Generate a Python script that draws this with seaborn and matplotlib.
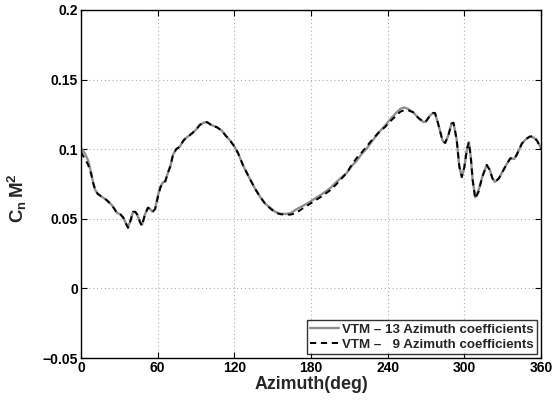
import matplotlib
matplotlib.use("Agg")
import matplotlib.pyplot as plt
import seaborn as sns
import pandas as pd

azimuth = [0, 3, 5.5, 8, 9.5, 11, 13, 16, 20, 24, 28, 31, 33, 35, 36.8, 38.5, 40.7, 42.5, 44, 46,
           47.7, 50, 52.4, 54, 56, 58, 60, 62, 64, 66, 68, 70, 72, 74.5, 77.5, 80, 82, 85, 87, 90,
           93, 96, 98.5, 101, 103, 106, 110, 113, 116.5, 120, 123, 127, 132, 136, 140, 144, 148, 152, 156, 160,
           164, 168, 172, 177, 183, 189, 195, 200, 203, 208, 212, 216, 220, 224, 228.5, 233, 238, 242, 246, 250,
           253, 256, 260, 264, 268, 270, 273, 275.5, 277, 279, 281, 283, 285, 287.5, 290, 291.5, 294, 296, 298, 300,
           302, 303.5, 305, 306.5, 308.5, 311, 314, 317.5, 320, 322, 324, 327, 330, 333, 336, 339, 341, 343, 345, 348,
           351, 354, 357, 360]

cn_13 = [0.101, 0.097, 0.092, 0.083, 0.076, 0.071, 0.068, 0.066, 0.0635, 0.060, 0.0545, 0.053, 0.051, 0.047, 0.044, 0.048, 0.055, 0.055, 0.053, 0.048,
         0.0456, 0.053, 0.058, 0.057, 0.055, 0.057, 0.066, 0.073, 0.076, 0.077, 0.083, 0.088, 0.096, 0.100, 0.102, 0.106, 0.108, 0.110, 0.1115, 0.114,
         0.1175, 0.119, 0.1195, 0.118, 0.117, 0.116, 0.1135, 0.110, 0.1065, 0.102, 0.097, 0.088, 0.079, 0.072, 0.066, 0.061, 0.058, 0.055, 0.0536, 0.0535,
         0.054, 0.0565, 0.0585, 0.061, 0.0645, 0.068, 0.072, 0.0765, 0.079, 0.083, 0.088, 0.092, 0.097, 0.101, 0.1066, 0.112, 0.117, 0.1215, 0.1255, 0.129,
         0.130, 0.129, 0.1265, 0.1225, 0.1195, 0.120, 0.124, 0.126, 0.126, 0.120, 0.113, 0.106, 0.1045, 0.110, 0.1185, 0.119, 0.107, 0.088, 0.080, 0.087,
         0.100, 0.105, 0.095, 0.078, 0.0655, 0.070, 0.080, 0.0887, 0.085, 0.079, 0.0765, 0.079, 0.084, 0.089, 0.0935, 0.093, 0.096, 0.100, 0.104, 0.107,
         0.109, 0.1085, 0.106, 0.101]

cn_9 = [0.098, 0.093, 0.089, 0.082, 0.076, 0.071, 0.068, 0.066, 0.0635, 0.060, 0.0545, 0.053, 0.051, 0.047, 0.0435, 0.048, 0.055, 0.055, 0.053, 0.048,
        0.0450, 0.053, 0.058, 0.057, 0.055, 0.057, 0.065, 0.072, 0.076, 0.077, 0.083, 0.088, 0.096, 0.100, 0.102, 0.106, 0.108, 0.110, 0.1115, 0.114,
        0.1175, 0.119, 0.1195, 0.118, 0.116, 0.116, 0.1135, 0.110, 0.1065, 0.102, 0.097, 0.088, 0.079, 0.072, 0.066, 0.061, 0.0575, 0.0545, 0.0533, 0.0530,
        0.053, 0.054, 0.0565, 0.0595, 0.063, 0.0665, 0.0705, 0.075, 0.078, 0.083, 0.089, 0.094, 0.098, 0.1025, 0.1075, 0.112, 0.116, 0.120, 0.1235, 0.127,
        0.128, 0.128, 0.1265, 0.1225, 0.1195, 0.120, 0.124, 0.126, 0.126, 0.120, 0.113, 0.106, 0.1045, 0.110, 0.1185, 0.119, 0.107, 0.088, 0.080, 0.087,
        0.100, 0.105, 0.095, 0.078, 0.0645, 0.069, 0.080, 0.0887, 0.085, 0.079, 0.0765, 0.079, 0.084, 0.089, 0.0935, 0.093, 0.096, 0.100, 0.104, 0.107,
        0.109, 0.1095, 0.106, 0.100]

x_ticks = [0, 60, 120, 180, 240, 300, 360]
y_ticks = [-0.05, 0, 0.05, 0.1, 0.15, 0.2]
y_tick_labels = ["\u22120.05", "0", "0.05", "0.1", "0.15", "0.2"]
series_names = ["VTM \u2013 13 Azimuth coefficients", "VTM \u2013   9 Azimuth coefficients"]

sns.set_style("white")
plt.rcParams["font.family"] = ["Liberation Sans", "DejaVu Sans"]
plt.rcParams["font.weight"] = "bold"
plt.rcParams["mathtext.fontset"] = "custom"
plt.rcParams["mathtext.bf"] = "Liberation Sans:bold"
plt.rcParams["mathtext.rm"] = "Liberation Sans:bold"
plt.rcParams["mathtext.it"] = "Liberation Sans:bold"

fig = plt.figure(figsize=(5.52, 4.03), dpi=100)
ax = fig.add_axes([81 / 552, 1 - 358 / 403, 460 / 552, 348 / 403])

df13 = pd.DataFrame({"az": azimuth, "cn": cn_13})
df9 = pd.DataFrame({"az": azimuth, "cn": cn_9})
sns.lineplot(data=df13, x="az", y="cn", ax=ax, color="#8f8f8f", linewidth=1.7,
             label=series_names[0], sort=False)
sns.lineplot(data=df9, x="az", y="cn", ax=ax, color="black", linewidth=1.4,
             linestyle=(0, (3.2, 2.4)), label=series_names[1], sort=False)

ax.set_xlim(0, 360)
ax.set_ylim(-0.05, 0.2)
ax.set_xticks(x_ticks)
ax.set_xticklabels([str(t) for t in x_ticks], fontsize=10, fontweight="bold")
ax.set_yticks(y_ticks)
ax.set_yticklabels(y_tick_labels, fontsize=10, fontweight="bold")
ax.grid(True, linestyle=(0, (1, 2.5)), color="#b0b0b0", linewidth=0.8)
ax.tick_params(direction="in", length=4, width=0.8, top=True, right=True,
               bottom=True, left=True, pad=2, colors="black")
for s in ax.spines.values():
    s.set_color("black")
    s.set_linewidth(1.0)

ax.set_xlabel("Azimuth(deg)", fontsize=12.8, fontweight="bold", labelpad=1)
ax.set_ylabel(r"$\mathbf{C_n\,M^2}$", fontsize=13.5)
ax.yaxis.set_label_coords(-0.113, 0.46)

leg = ax.legend(loc="lower right", fontsize=9.6, frameon=True, fancybox=False,
                edgecolor="black", handlelength=2.2, handletextpad=0.2,
                borderpad=0.25, labelspacing=0.2, borderaxespad=0.3)
leg.get_frame().set_linewidth(1.0)
for t in leg.get_texts():
    t.set_fontweight("bold")

fig.savefig("out.png", dpi=100)
